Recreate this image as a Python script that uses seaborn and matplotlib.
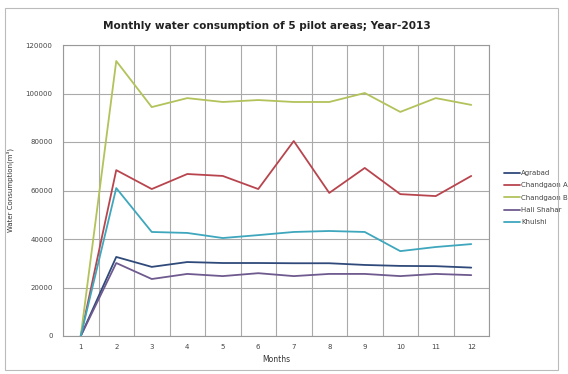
import numpy as np
import pandas as pd
import seaborn as sns
import matplotlib.pyplot as plt
from matplotlib.patches import Rectangle
from matplotlib.ticker import MultipleLocator, FixedLocator

months = list(range(1, 13))
agrabad = [0, 32600, 28500, 30500, 30100, 30100, 30000, 30000, 29300, 28900, 28800, 28200]
chandgaon_a = [0, 68400, 60600, 66800, 66000, 60600, 80400, 59000, 69300, 58500, 57700, 66000]
chandgaon_b = [0, 113400, 94400, 98100, 96500, 97300, 96500, 96500, 100200, 92400, 98100, 95300]
hali_shahar = [0, 30100, 23500, 25600, 24700, 25900, 24700, 25600, 25600, 24700, 25600, 25100]
khulshi = [0, 61000, 42900, 42500, 40400, 41600, 42900, 43300, 42900, 35000, 36700, 37900]

areas = ["Agrabad", "Chandgaon A", "Chandgaon B", "Hali Shahar", "Khulshi"]
series = [agrabad, chandgaon_a, chandgaon_b, hali_shahar, khulshi]
colors = ["#2F4A7A", "#B8454E", "#B3C25A", "#6E5A8E", "#3EA7BD"]

rows = []
for name, vals in zip(areas, series):
    for m, v in zip(months, vals):
        rows.append({"Months": m, "Water": v, "Area": name})
df = pd.DataFrame(rows)

sns.set_style("white")
fig = plt.figure(figsize=(5.68, 3.74), dpi=100)
ax = fig.add_axes([63 / 568, 1 - 336 / 374, (489 - 63) / 568, (336 - 45) / 374])

sns.lineplot(data=df, x="Months", y="Water", hue="Area", palette=dict(zip(areas, colors)),
             linewidth=1.3, ax=ax, legend=True)

ax.set_xlim(0.5, 12.5)
ax.set_ylim(0, 120000)
ax.xaxis.set_major_locator(FixedLocator(months))
ax.xaxis.set_minor_locator(FixedLocator(np.arange(0.5, 13, 1)))
ax.yaxis.set_major_locator(MultipleLocator(20000))
ax.set_xticklabels([str(m) for m in months])
ax.tick_params(axis="x", which="major", length=0, labelsize=5, colors="#444444", pad=6)
ax.tick_params(axis="x", which="minor", length=4, color="#999999", direction="out")
ax.tick_params(axis="y", which="major", length=4, color="#999999", direction="out", labelsize=5, labelcolor="#444444")
ax.grid(True, axis="y", which="major", color="#AAAAAA", linewidth=0.8)
ax.grid(True, axis="x", which="minor", color="#AAAAAA", linewidth=0.8)
for s in ax.spines.values():
    s.set_color("#999999")
    s.set_linewidth(0.8)

ax.set_xlabel("Months", fontsize=5.5, color="#333333", labelpad=3)
ax.set_ylabel("Water Consumption(m³)", fontsize=5, color="#333333", labelpad=8)

fig.text(267 / 568, 1 - 26 / 374, "Monthly water consumption of 5 pilot areas; Year-2013",
         ha="center", va="center", fontsize=7.6, fontweight="bold", color="#222222")

handles, labels = ax.get_legend_handles_labels()
ax.legend(handles, labels, loc="upper left", bbox_to_anchor=(498 / 568, 1 - 164 / 374),
          bbox_transform=fig.transFigure, frameon=False, fontsize=5, handlelength=2.2,
          handletextpad=0.2, labelspacing=0.9, labelcolor="#444444")

fig.patches.append(Rectangle((5 / 568, 4 / 374), 553 / 568, 362 / 374, transform=fig.transFigure,
                             fill=False, edgecolor="#BBBBBB", linewidth=0.8))

fig.savefig("out.png", dpi=100)
